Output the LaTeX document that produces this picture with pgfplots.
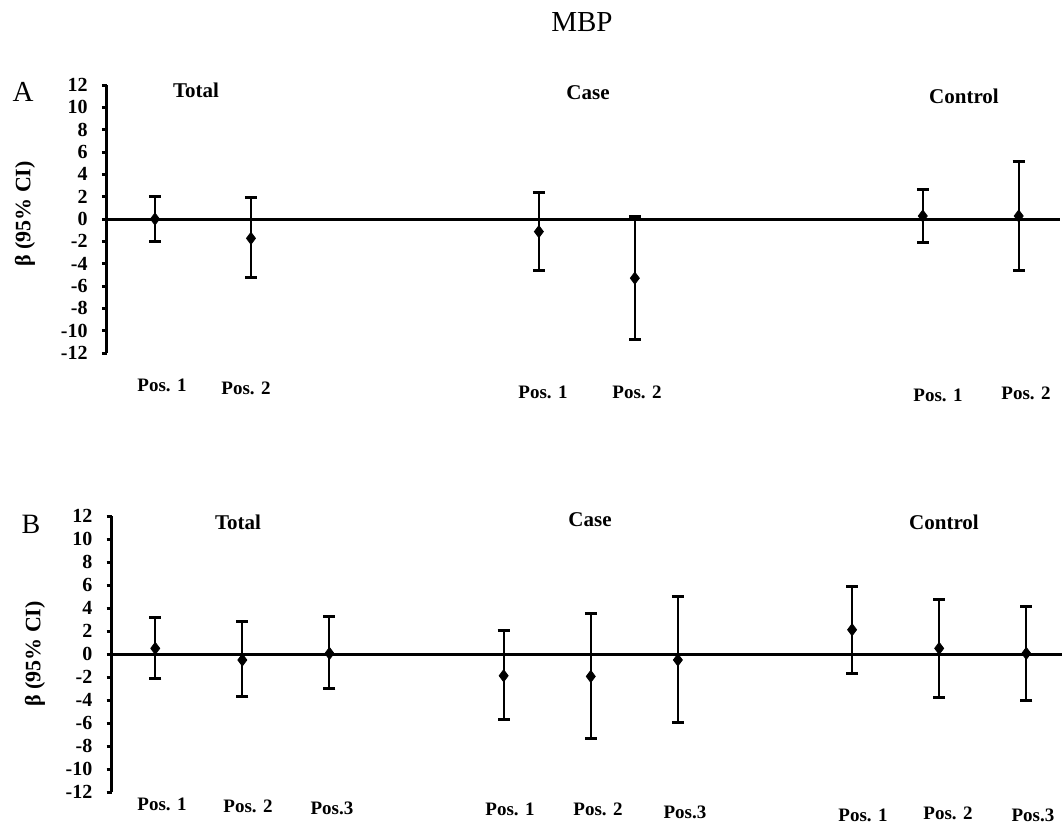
\documentclass[border=0pt]{standalone}
\usepackage{fontspec}
\setmainfont{Liberation Serif}
\usepackage{pgfplots}
\usepackage{pgfplotstable}
\pgfplotsset{compat=1.18}

\pgfplotstableread{
x y ep em
0.5 0 2.0 2.0
1.5 -1.73 3.67 3.47
4.5 -1.13 3.52 3.44
5.5 -5.3 5.5 5.5
8.5 0.27 2.39 2.33
9.5 0.27 4.92 4.84
}\dataA

\pgfplotstableread{
x y ep em
0.5 0.49 2.67 2.66
1.5 -0.52 3.36 3.17
2.5 0.05 3.25 3.07
4.5 -1.89 3.92 3.82
5.5 -1.95 5.43 5.39
6.5 -0.52 5.50 5.43
8.5 2.11 3.72 3.82
9.5 0.49 4.21 4.23
10.5 0.05 4.07 4.05
}\dataB

\pgfplotsset{
  panel/.style={
    scale only axis,
    axis y line=left,
    axis x line=middle,
    axis line style={-, line width=1.5pt, black},
    xtick=\empty,
    ytick={-12,-10,...,12},
    ymin=-12, ymax=12,
    xmin=0,
    tick align=outside,
    major tick length=2.5pt,
    tick style={line width=1.5pt, black},
    /pgf/number format/assume math mode=true,
    yticklabel style={font=\bfseries\fontsize{10}{10}\selectfont, inner sep=1pt, xshift=-6pt},
    clip=false,
    anchor=south west,
  },
  ci/.style={
    only marks, black,
    mark=diamond*, mark size=3pt,
    mark options={fill=black, draw=black, line width=0.4pt},
    error bars/.cd, y dir=both, y explicit,
    error bar style={line width=1pt, black},
    error mark options={rotate=90, mark size=3pt, line width=1.5pt, black},
  },
}

\begin{document}
\begin{tikzpicture}
\useasboundingbox (0,0) rectangle (531pt,-415pt);

\begin{axis}[panel, at={(53.5pt,-176.5pt)}, width=476.5pt, height=134pt, xmax=9.93]
\addplot[ci] table[x=x, y=y, y error plus=ep, y error minus=em] {\dataA};
\end{axis}

\begin{axis}[panel, at={(55.85pt,-396pt)}, width=475.15pt, height=138pt, xmax=10.91]
\addplot[ci] table[x=x, y=y, y error plus=ep, y error minus=em] {\dataB};
\end{axis}

\begin{scope}[x=0.5pt, y=-0.5pt]
\node[font=\fontsize{14.5}{14.5}\selectfont] at (582,22) {MBP};
\node[font=\fontsize{14.5}{14.5}\selectfont] at (23,92) {A};
\node[font=\fontsize{14}{14}\selectfont] at (31,524) {B};

\node[rotate=90, font=\bfseries\fontsize{11}{11}\selectfont] at (25,214) {β (95\% CI)};
\node[rotate=90, font=\bfseries\fontsize{11}{11}\selectfont] at (35,654) {β (95\% CI)};

\begin{scope}[font=\bfseries\fontsize{10.5}{10.5}\selectfont]
\node at (196,90) {Total};
\node at (588,93) {Case};
\node at (964,96) {Control};
\node at (238,522) {Total};
\node at (590,520) {Case};
\node at (944,522) {Control};
\end{scope}

\begin{scope}[font=\bfseries\fontsize{9.5}{9.5}\selectfont]
\node at (162,385) {Pos. 1};
\node at (246,388) {Pos. 2};
\node at (543,392) {Pos. 1};
\node at (637,392) {Pos. 2};
\node at (938,395) {Pos. 1};
\node at (1026,393) {Pos. 2};

\node at (162,804) {Pos. 1};
\node at (248,806) {Pos. 2};
\node at (332,808) {Pos.3};
\node at (510,809) {Pos. 1};
\node at (598,809) {Pos. 2};
\node at (685,812) {Pos.3};
\node at (863,815) {Pos. 1};
\node at (948,813) {Pos. 2};
\node at (1033,815) {Pos.3};
\end{scope}
\end{scope}
\end{tikzpicture}
\end{document}
